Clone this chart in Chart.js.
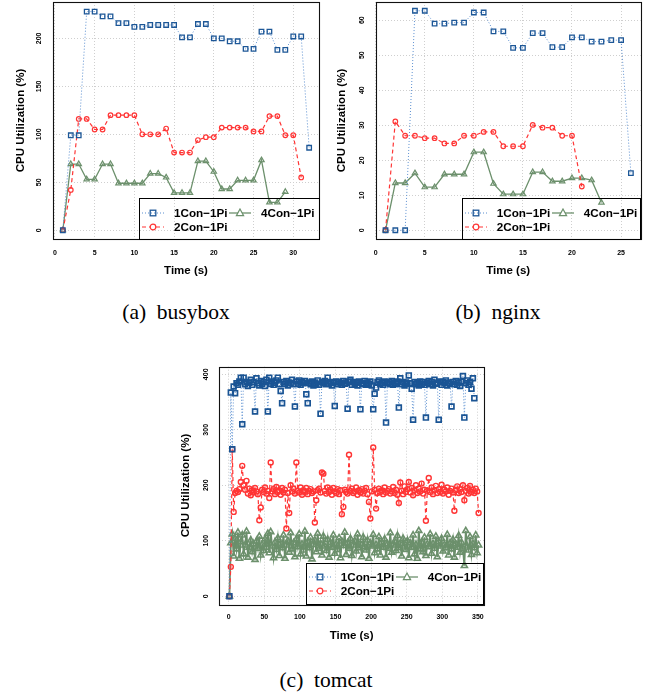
<!DOCTYPE html>
<html><head><meta charset="utf-8">
<script src="https://cdn.jsdelivr.net/npm/chart.js@4.4.0/dist/chart.umd.min.js"></script>
<style>
body{margin:0;background:#fff;width:651px;height:693px;position:relative;overflow:hidden;font-family:"Liberation Sans",Arial,sans-serif;}
canvas{position:absolute;}
.cap{position:absolute;font-family:"Liberation Serif","Times New Roman",serif;font-size:21.5px;color:#000;white-space:nowrap;transform:translate(-50%,-50%);}
.leg{position:absolute;border:1px solid #000;box-sizing:border-box;}
.li{position:absolute;font-weight:bold;font-size:11.7px;line-height:14px;white-space:nowrap;transform:translateY(-50%);color:#000;}
.sym{position:absolute;transform:translateY(-50%);}
</style></head><body>
<canvas id="ca" width="330" height="290" style="left:0;top:0"></canvas>
<canvas id="cb" width="321" height="290" style="left:330px;top:0"></canvas>
<canvas id="cc" width="340" height="300" style="left:160px;top:350px"></canvas>
<div class="cap" style="left:176px;top:312px">(a)&nbsp;&nbsp;busybox</div>
<div class="cap" style="left:498px;top:312px">(b)&nbsp;&nbsp;nginx</div>
<div class="cap" style="left:326px;top:680px">(c)&nbsp;&nbsp;tomcat</div>
<script>
// ---------- data ----------
const seriesNames = ['1Con\u22121Pi', '2Con\u22121Pi', '4Con\u22121Pi'];

const busyTime = [1,2,3,4,5,6,7,8,9,10,11,12,13,14,15,16,17,18,19,20,21,22,23,24,25,26,27,28,29,30,31,32];
const busy1Con = [0,99,99,228,228,223,223,216,216,212,212,214,214,214,214,201,201,215,215,200,200,197,197,189,189,207,207,188,188,202,202,86];
const busy2Con = [0,42,116,116,105,105,120,120,120,120,100,100,100,106,81,81,81,94,97,97,107,107,107,107,103,103,119,119,99,99,55];
const busy4Con = [0,69,69,53,53,69,69,49,49,49,49,59,59,55,39,39,39,72,72,61,43,43,52,52,52,73,29,29,40];
const busyXTicks = [0,5,10,15,20,25,30];
const busyYTicks = [0,50,100,150,200];

const nginxTime = [1,2,3,4,5,6,7,8,9,10,11,12,13,14,15,16,17,18,19,20,21,22,23,24,25,26];
const nginx1Con = [0,0,0,62.7,62.7,59,59,59.3,59.3,62.2,62.2,56.8,56.8,52.1,52.1,56.3,56.3,52.3,52.3,55.1,55.1,53.9,53.9,54.3,54.3,16.3];
const nginx2Con = [0,31.1,27,27,26.3,26.3,24.8,24.8,27,27,28.1,28.1,24,24,24,30.1,29.3,29.3,27,27,12.5];
const nginx4Con = [0,13.5,13.5,16.3,12.3,12.3,16,16,16,22.3,22.3,13.3,10.3,10.3,10.3,16.6,16.6,14,14,14.9,14.9,14.3,7.9];
const nginxXTicks = [0,5,10,15,20,25];
const nginxYTicks = [0,10,20,30,40,50,60];

// tomcat sampled every 2 s starting at t = 1
const tomcatTime = Array.from({length: 176}, (_, i) => 1 + 2 * i);
const tomcat1Con = [
0,367,265,378,366,384,381,387,394,310,394,382,386,379,385,390,381,386,333,393,
384,380,388,383,386,379,390,333,394,383,387,381,385,389,394,382,370,348,386,383,
388,380,385,384,390,382,342,387,383,389,381,386,384,388,364,348,385,382,387,380,
385,383,389,381,329,386,384,388,382,394,383,386,380,385,343,387,382,386,384,381,
388,383,385,338,387,390,381,386,383,385,380,387,337,384,382,388,381,385,383,387,
380,337,365,376,386,389,382,385,381,387,313,384,386,382,388,381,385,383,387,340,
393,382,386,380,385,383,398,384,374,318,386,382,385,380,387,383,386,381,322,385,
388,382,386,380,390,383,385,318,387,381,386,384,389,380,385,383,342,386,382,388,
381,385,379,387,397,322,384,389,381,386,374,393,357];
const tomcat2Con = [
0,53,265,152,186,190,188,193,206,235,200,192,208,185,194,182,191,187,195,189,
184,137,160,192,188,196,185,190,177,241,189,193,184,197,188,191,183,195,187,192,
122,186,150,200,189,194,185,241,190,187,196,183,191,188,195,184,190,193,186,189,
133,173,191,194,187,223,221,190,185,196,188,192,183,195,189,186,193,184,191,148,
161,192,188,185,255,190,194,186,189,196,183,191,187,193,185,190,195,184,170,140,
189,268,192,158,186,194,188,191,184,196,187,190,193,185,189,197,186,192,183,168,
205,190,184,198,188,193,206,187,195,182,191,200,186,194,189,203,185,192,136,190,
213,188,196,184,191,199,186,193,188,201,185,192,189,196,183,190,194,187,154,191,
198,186,193,188,200,173,190,195,185,199,188,192,186,194,189,150];
const tomcat4Con = [
0,96,112,72,104,85,115,68,98,110,76,92,117,70,88,101,80,94,66,99,
86,108,74,93,82,103,88,113,78,116,90,69,97,84,105,73,95,87,110,68,
92,100,79,114,85,96,71,103,89,112,76,94,83,117,72,98,87,106,67,93,
101,80,113,86,95,74,108,90,82,102,70,97,88,110,77,94,84,105,69,99,
91,115,75,96,86,104,73,92,100,81,112,87,95,71,106,89,83,101,68,96,
90,111,78,93,85,107,74,97,88,103,70,94,86,114,79,92,99,82,109,87,
95,72,104,90,84,100,69,96,88,110,76,93,68,118,85,97,80,106,73,94,
89,112,77,95,86,108,71,98,90,104,81,93,87,111,74,96,85,102,70,94,
88,109,79,97,86,55,118,90,83,107,75,95,87,110,78,92];
const tomcatXTicks = [0,50,100,150,200,250,300,350];
const tomcatYTicks = [0,100,200,300,400];

// ---------- styles ----------
const FONT = '"Liberation Sans", Arial, sans-serif';
const style1 = {borderColor:'#5b8fd0', borderWidth:1, borderDash:[1,2], pointStyle:'rect', pointRadius:3.2,
  pointBorderColor:'#1d5797', pointBorderWidth:1.3, pointBackgroundColor:'rgba(0,0,0,0)', order:1};
const style2 = {borderColor:'#ff3535', borderWidth:1.2, borderDash:[4,3], pointStyle:'circle', pointRadius:2.3,
  pointBorderColor:'#ff3535', pointBorderWidth:1.2, pointBackgroundColor:'rgba(0,0,0,0)', order:2};
const style4 = {borderColor:'#6c906c', borderWidth:1.3, pointStyle:'triangle', pointRadius:3.1,
  pointBorderColor:'#6c906c', pointBorderWidth:1.2, pointBackgroundColor:'rgba(0,0,0,0)', order:3};
// denser tomcat panel: slightly heavier marks
const dense1 = {pointBorderWidth:1.7, pointRadius:3.4, pointBorderColor:'#1a5494'};
const dense2 = {pointBorderWidth:1.4, pointRadius:2.5};
const dense4 = {pointBorderWidth:1.6, pointRadius:3.5, borderWidth:1.8, borderColor:'#6a8e6a'};

function ds(label, times, vals, st, extra) {
  return Object.assign({label, data: vals.map((v, i) => ({x: times[i], y: v})), fill:false, tension:0, pointHoverRadius:3}, st, extra || {});
}

const framePlugin = {
  id:'frame',
  afterDraw(chart) {
    const a = chart.chartArea, c = chart.ctx;
    c.save(); c.strokeStyle = '#111'; c.lineWidth = 1.1;
    c.strokeRect(Math.round(a.left)+0.5, Math.round(a.top)+0.5, Math.round(a.right-a.left), Math.round(a.bottom-a.top));
    c.restore();
  }
};

function makeChart(id, p) {
  const tickFont = {family: FONT, size: 7, weight: 'bold'};
  const titleFont = {family: FONT, size: 11.5, weight: 'bold'};
  const grid = {color:'#cfcfcf', lineWidth:1, drawTicks:false};
  new Chart(document.getElementById(id), {
    type: 'line',
    data: {datasets: [
      ds(seriesNames[0], p.time, p.s1, style1, p.e1),
      ds(seriesNames[1], p.time, p.s2, style2, p.e2),
      ds(seriesNames[2], p.time, p.s4, style4, p.e4)
    ]},
    options: {
      responsive:false, animation:false, devicePixelRatio:1,
      layout:{autoPadding:false, padding:{left:0, top:p.padTop, right:p.padRight, bottom:0}},
      plugins:{legend:{display:false}, tooltip:{enabled:false}},
      scales:{
        x:{type:'linear', min:p.xmin, max:p.xmax,
          afterBuildTicks: s => { s.ticks = p.xTicks.map(v => ({value:v})); },
          afterFit: s => { s.height = p.xH; s.paddingLeft = 0; s.paddingRight = 0; },
          ticks:{font:tickFont, color:'#000', padding:p.xTickPad, maxRotation:0, minRotation:0, autoSkip:false},
          grid:grid, border:{display:false, dash:[1,2]},
          title:{display:true, text:'Time (s)', font:titleFont, color:'#000', padding:{top:0, bottom:p.xTitlePad}}},
        y:{type:'linear', min:p.ymin, max:p.ymax,
          afterBuildTicks: s => { s.ticks = p.yTicks.map(v => ({value:v})); },
          afterFit: s => { s.width = p.yW; s.paddingTop = 0; s.paddingBottom = 0; },
          ticks:{font:tickFont, color:'#000', padding:p.yTickPad, minRotation:90, maxRotation:90, crossAlign:'center', autoSkip:false},
          grid:grid, border:{display:false, dash:[1,2]},
          title:{display:true, text:'CPU Utilization (%)', font:titleFont, color:'#000', padding:{top:p.yTitlePad, bottom:0}}}
      }
    },
    plugins:[framePlugin]
  });
}

makeChart('ca', {time:busyTime, s1:busy1Con, s2:busy2Con, s4:busy4Con, xTicks:busyXTicks, yTicks:busyYTicks,
  xmin:-0.24, xmax:33.24, ymin:-9.15, ymax:237.95, padTop:2, padRight:11, xH:51, yW:53,
  xTickPad:10.1, xTitlePad:12.1, yTickPad:7.6, yTitlePad:14.1});
makeChart('cb', {time:nginxTime, s1:nginx1Con, s2:nginx2Con, s4:nginx4Con, xTicks:nginxXTicks, yTicks:nginxYTicks,
  xmin:0, xmax:27, ymin:-2.5, ymax:65.2, padTop:2, padRight:10.3, xH:51, yW:45.7,
  xTickPad:10.1, xTitlePad:12.1, yTickPad:9.6, yTitlePad:5.1});
makeChart('cc', {time:tomcatTime, s1:tomcat1Con, s2:tomcat2Con, s4:tomcat4Con, xTicks:tomcatXTicks, yTicks:tomcatYTicks,
  xmin:-13.2, xmax:358.6, ymin:-14.5, ymax:413.7, padTop:16.7, padRight:16, xH:45.7, yW:59.3,
  xTickPad:8.5, xTitlePad:7.4, yTickPad:7.1, yTitlePad:19.1, e1:dense1, e2:dense2, e4:dense4});

// ---------- legends (inside plot, bottom-right) ----------
function symSvg(kind) {
  let s = '<svg width="22" height="10" viewBox="0 0 22 10">';
  if (kind === 1) s += '<line x1="0" y1="5" x2="22" y2="5" stroke="#5b8fd0" stroke-width="1" stroke-dasharray="1,2"/><rect x="8.2" y="2.2" width="5.6" height="5.6" fill="none" stroke="#1d5797" stroke-width="1.3"/>';
  if (kind === 2) s += '<line x1="0" y1="5" x2="22" y2="5" stroke="#ff3535" stroke-width="1.2" stroke-dasharray="4,3"/><circle cx="11" cy="5" r="2.8" fill="#fff" stroke="#ff3535" stroke-width="1.2"/>';
  if (kind === 4) s += '<line x1="0" y1="5" x2="22" y2="5" stroke="#6c906c" stroke-width="1.3"/><polygon points="11,1 14.6,7.6 7.4,7.6" fill="#fff" stroke="#6c906c" stroke-width="1.2"/>';
  return s + '</svg>';
}
function legend(left, top, w, h) {
  const box = document.createElement('div');
  box.className = 'leg';
  box.style.cssText = `left:${left}px;top:${top}px;width:${w}px;height:${h}px;`;
  const items = [[1, 2, 34, 13.7, seriesNames[0]], [4, 89, 121, 13.7, seriesNames[2]], [2, 2, 34, 27.7, seriesNames[1]]];
  items.forEach(([k, sx, tx, y, txt]) => {
    const sym = document.createElement('div'); sym.className = 'sym';
    sym.style.cssText = `left:${sx}px;top:${y}px;`; sym.innerHTML = symSvg(k); box.appendChild(sym);
    const t = document.createElement('div'); t.className = 'li';
    t.style.cssText = `left:${tx}px;top:${y}px;`; t.textContent = txt; box.appendChild(t);
  });
  document.body.appendChild(box);
}
legend(139, 198, 180.5, 41.5);
legend(461.7, 198, 179.5, 41.5);
legend(305.7, 562.7, 178.8, 42);
</script>
</body></html>
